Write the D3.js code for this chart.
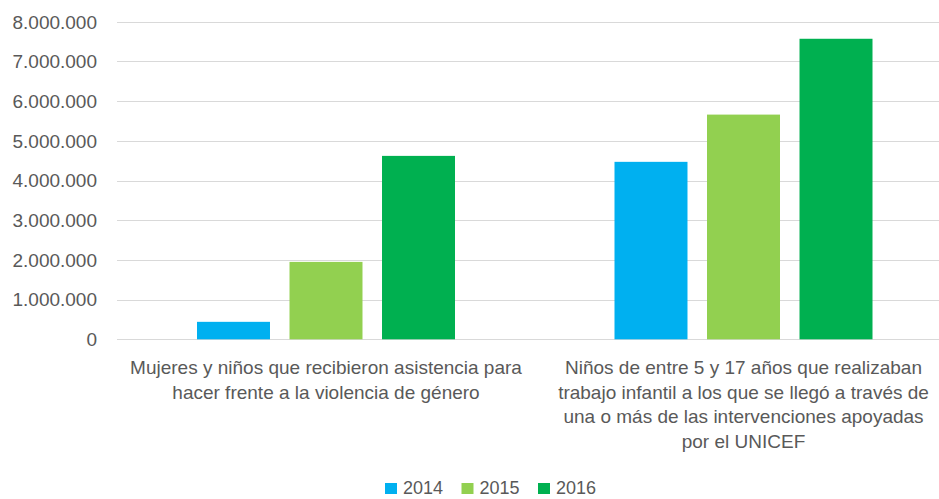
<!DOCTYPE html>
<html>
<head>
<meta charset="utf-8">
<script src="https://cdn.jsdelivr.net/npm/d3@7"></script>
<style>
  body { margin: 0; background: #fff; }
  text { font-family: "Liberation Sans", Arial, sans-serif; fill: #595959; }
</style>
</head>
<body>
<div id="chart"></div>
<script>
var categories = ["violencia", "trabajo"];
var categoryLines = [
  ["Mujeres y niños que recibieron asistencia para", "hacer frente a la violencia de género"],
  ["Niños de entre 5 y 17 años que realizaban", "trabajo infantil a los que se llegó a través de", "una o más de las intervenciones apoyadas", "por el UNICEF"]
];
var years = ["2014", "2015", "2016"];
var values2014 = [440000, 4470000];
var values2015 = [1950000, 5660000];
var values2016 = [4620000, 7570000];
var yTicks = [0, 1000000, 2000000, 3000000, 4000000, 5000000, 6000000, 7000000, 8000000];
var yearColors = ["#00B0F0", "#92D050", "#00B050"];

var width = 939, height = 499;
var series = [values2014, values2015, values2016];

var svg = d3.select("#chart").append("svg")
  .attr("width", width)
  .attr("height", height);

var x0 = d3.scaleBand().domain(categories).range([117, 952]).padding(0);
var x1 = d3.scaleBand().domain(years).range([80, 338]).paddingInner(0.211).paddingOuter(0);
var y = d3.scaleLinear().domain([0, 8000000]).range([339.3, 21.7]);
var color = d3.scaleOrdinal().domain(years).range(yearColors);

var fmt = function(d) {
  return d3.format(",")(d).replace(/,/g, ".");
};

// gridlines
svg.append("g").selectAll("line")
  .data(yTicks)
  .enter()
  .append("line")
  .attr("x1", 117)
  .attr("x2", width)
  .attr("y1", function(d) { return Math.round(y(d)) + 0.5; })
  .attr("y2", function(d) { return Math.round(y(d)) + 0.5; })
  .attr("stroke", "#d9d9d9")
  .attr("stroke-width", 1);

// y tick labels
svg.append("g").selectAll("text")
  .data(yTicks)
  .enter()
  .append("text")
  .attr("x", 97)
  .attr("y", function(d) { return y(d); })
  .attr("dy", "0.36em")
  .attr("text-anchor", "end")
  .style("font-size", "19px")
  .text(fmt);

// bars
var groups = svg.append("g").selectAll("g")
  .data(categories)
  .enter()
  .append("g")
  .attr("transform", function(d) { return "translate(" + x0(d) + ",0)"; });

groups.selectAll("rect")
  .data(function(d, i) {
    return years.map(function(yr, j) { return {year: yr, value: series[j][i]}; });
  })
  .enter()
  .append("rect")
  .attr("x", function(d) { return x1(d.year); })
  .attr("width", x1.bandwidth())
  .attr("y", function(d) { return y(d.value); })
  .attr("height", function(d) { return y(0) - y(d.value); })
  .attr("fill", function(d) { return color(d.year); });

// category labels
svg.append("g").selectAll("text")
  .data(categories)
  .enter()
  .append("text")
  .attr("text-anchor", "middle")
  .style("font-size", "19px")
  .each(function(d, i) {
    var cx = x0(d) + x1(years[0]) + (x1.range()[1] - x1.range()[0]) / 2;
    d3.select(this).selectAll("tspan")
      .data(categoryLines[i])
      .enter()
      .append("tspan")
      .attr("x", cx)
      .attr("y", function(t, k) { return 374 + k * 24.5; })
      .text(function(t) { return t; });
  });

// legend
var legend = svg.append("g").selectAll("g")
  .data(years)
  .enter()
  .append("g")
  .attr("transform", function(d, i) { return "translate(" + (385 + i * 76.5) + ",483)"; });

legend.append("rect")
  .attr("width", 12)
  .attr("height", 11)
  .attr("fill", function(d) { return color(d); });

legend.append("text")
  .attr("x", 18)
  .attr("y", 11)
  .style("font-size", "18px")
  .text(function(d) { return d; });
</script>
</body>
</html>
